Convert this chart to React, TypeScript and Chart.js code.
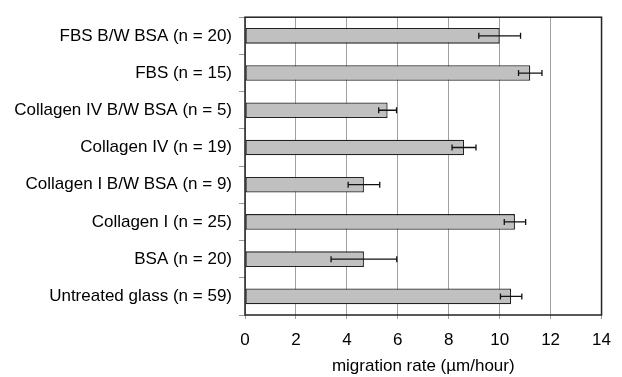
import React, { useEffect, useRef } from 'react';
import { Chart, registerables } from 'chart.js';

Chart.register(...registerables);

const categories = [
  'FBS B/W BSA (n = 20)',
  'FBS (n = 15)',
  'Collagen IV B/W BSA (n = 5)',
  'Collagen IV (n = 19)',
  'Collagen I B/W BSA (n = 9)',
  'Collagen I (n = 25)',
  'BSA (n = 20)',
  'Untreated glass (n = 59)',
];
const rates = [10.0, 11.2, 5.6, 8.6, 4.67, 10.6, 4.67, 10.45];
const errors = [0.82, 0.46, 0.35, 0.47, 0.62, 0.42, 1.29, 0.42];
const xMin = 0;
const xMax = 14;
const xStep = 2;
const xTitle = 'migration rate (µm/hour)';

const FONT = "'Liberation Sans', Arial, sans-serif";

const errorBarPlugin = {
  id: 'errorBars',
  afterDatasetsDraw(chart: any) {
    const ctx = chart.ctx;
    const xs = chart.scales.x;
    const meta = chart.getDatasetMeta(0);
    ctx.save();
    ctx.strokeStyle = '#111';
    ctx.lineWidth = 1.3;
    meta.data.forEach((bar: any, i: number) => {
      const y = bar.y;
      const lo = xs.getPixelForValue(rates[i] - errors[i]);
      const hi = xs.getPixelForValue(rates[i] + errors[i]);
      ctx.beginPath();
      ctx.moveTo(lo, y);
      ctx.lineTo(hi, y);
      ctx.moveTo(lo, y - 3);
      ctx.lineTo(lo, y + 3);
      ctx.moveTo(hi, y - 3);
      ctx.lineTo(hi, y + 3);
      ctx.stroke();
    });
    ctx.restore();
  },
};

const borderPlugin = {
  id: 'plotBorder',
  afterDraw(chart: any) {
    const { ctx, chartArea } = chart;
    ctx.save();
    ctx.strokeStyle = '#222';
    ctx.lineWidth = 1.5;
    ctx.strokeRect(chartArea.left, chartArea.top, chartArea.right - chartArea.left, chartArea.bottom - chartArea.top);
    ctx.restore();
  },
};

export default function App() {
  const ref = useRef<HTMLCanvasElement>(null);
  useEffect(() => {
    if (!ref.current) return;
    const chart = new Chart(ref.current, {
      type: 'bar',
      data: {
        labels: categories,
        datasets: [
          {
            data: rates,
            backgroundColor: '#c0c0c0',
            borderColor: '#222',
            borderWidth: 1.3,
            borderSkipped: false,
            barPercentage: 0.42,
            categoryPercentage: 1.0,
          },
        ],
      },
      options: {
        indexAxis: 'y',
        animation: false,
        responsive: false,
        devicePixelRatio: 1,
        layout: { padding: { top: 12, right: 12, left: 0, bottom: 0 } },
        plugins: { legend: { display: false }, tooltip: { enabled: false } },
        scales: {
          x: {
            min: xMin,
            max: xMax,
            ticks: { stepSize: xStep, color: '#000', font: { family: FONT, size: 17 }, padding: 11 },
            grid: { color: '#a0a0a0', lineWidth: 1, tickLength: 4, drawTicks: true },
            border: { display: false },
            title: { display: true, text: xTitle, color: '#000', font: { family: FONT, size: 17 }, padding: { top: 0, bottom: 0 } },
            afterFit(scale: any) {
              scale.height = 62;
            },
          },
          y: {
            ticks: { color: '#000', font: { family: FONT, size: 17 }, padding: 7 },
            grid: { drawOnChartArea: false, color: '#999', tickLength: 6, offset: true },
            border: { display: false },
            afterFit(scale: any) {
              scale.width = 245;
            },
          },
        },
      },
      plugins: [errorBarPlugin, borderPlugin],
    } as any);
    return () => chart.destroy();
  }, []);
  return (
    <div style={{ position: 'fixed', left: 0, top: 0, width: 622, height: 377, background: '#fff' }}>
      <canvas ref={ref} width={622} height={377} style={{ width: 622, height: 377 }} />
    </div>
  );
}
